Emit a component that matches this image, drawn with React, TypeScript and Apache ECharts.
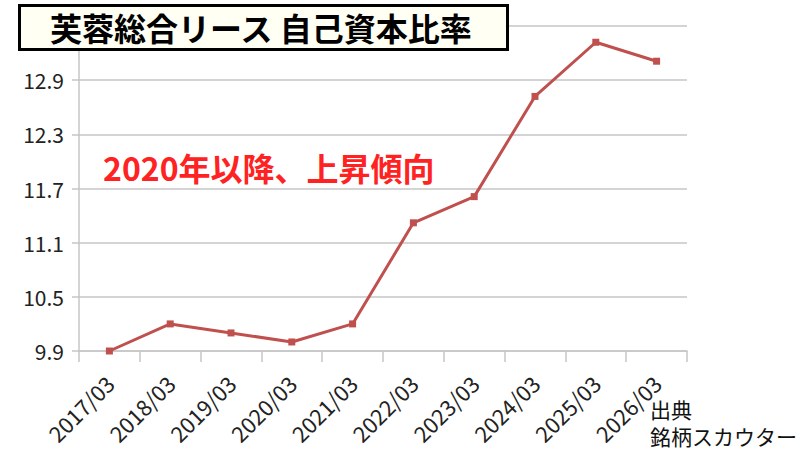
import React, { useEffect, useRef } from "react";
import * as echarts from "echarts";

const categories = ["2017/03", "2018/03", "2019/03", "2020/03", "2021/03", "2022/03", "2023/03", "2024/03", "2025/03", "2026/03"];
const ratioValues = [9.9, 10.2, 10.1, 10.0, 10.2, 11.32, 11.61, 12.72, 13.32, 13.11];
const yTickValues = [9.9, 10.5, 11.1, 11.7, 12.3, 12.9, 13.5];
const yLabelValues = [9.9, 10.5, 11.1, 11.7, 12.3, 12.9];
const titleText = "芙蓉総合リース 自己資本比率";
const noteText = "2020年以降、上昇傾向";
const sourceText = "出典\n銘柄スカウター";

const FONT = '"Noto Sans CJK JP", "Noto Sans", sans-serif';

export default function App() {
  const ref = useRef<HTMLDivElement>(null);
  useEffect(() => {
    if (!ref.current) return;
    const chart = echarts.init(ref.current, undefined, { renderer: "svg" });
    const gridColor = "#c6c6c6";
    chart.setOption({
      animation: false,
      backgroundColor: "#ffffff",
      textStyle: { fontFamily: FONT },
      grid: { left: 79, right: 113, top: 26, bottom: 99, outerBoundsMode: "none" },
      xAxis: {
        type: "category",
        data: categories,
        boundaryGap: true,
        axisLine: { show: true, lineStyle: { color: gridColor, width: 1.5 } },
        axisTick: { show: true, length: 11, lineStyle: { color: gridColor, width: 1.5 } },
        axisLabel: { interval: 0, rotate: 45, fontSize: 22, color: "#222", margin: 28, fontFamily: FONT },
        splitLine: { show: false },
      },
      yAxis: {
        type: "value",
        min: 9.9,
        max: 13.5,
        axisLine: { show: true, lineStyle: { color: gridColor, width: 1.5 } },
        axisTick: { show: true, length: 7, customValues: yTickValues, lineStyle: { color: gridColor, width: 1.5 } },
        axisLabel: {
          customValues: yLabelValues,
          fontSize: 21,
          color: "#222",
          margin: 15,
          fontFamily: FONT,
          formatter: (v: number) => v.toFixed(1),
        },
        splitLine: { show: true, lineStyle: { color: gridColor, width: 1.5 } },
      },
      series: [
        {
          type: "line",
          data: ratioValues,
          symbol: "rect",
          symbolSize: 7,
          lineStyle: { color: "#c0504d", width: 3 },
          itemStyle: { color: "#c0504d" },
        },
      ],
      graphic: [
        {
          type: "rect",
          z: 100,
          shape: { x: 19.5, y: 5.5, width: 488, height: 44 },
          style: { fill: "#fffff3", stroke: "#000000", lineWidth: 3 },
        },
        {
          type: "text",
          z: 101,
          x: 50,
          y: 27,
          style: {
            text: titleText,
            font: `bold 32px ${FONT}`,
            fill: "#000000",
            verticalAlign: "middle",
          },
        },
        {
          type: "text",
          z: 101,
          x: 103,
          y: 167,
          style: {
            text: noteText,
            font: `bold 32px ${FONT}`,
            fill: "#ff2222",
            verticalAlign: "middle",
          },
        },
        {
          type: "text",
          z: 101,
          x: 650,
          y: 395,
          style: {
            text: sourceText,
            font: `21px ${FONT}`,
            lineHeight: 27,
            fill: "#111111",
            verticalAlign: "top",
          },
        },
      ],
    });
    return () => chart.dispose();
  }, []);
  return <div ref={ref} style={{ width: 800, height: 450, position: "fixed", left: 0, top: 0 }} />;
}
